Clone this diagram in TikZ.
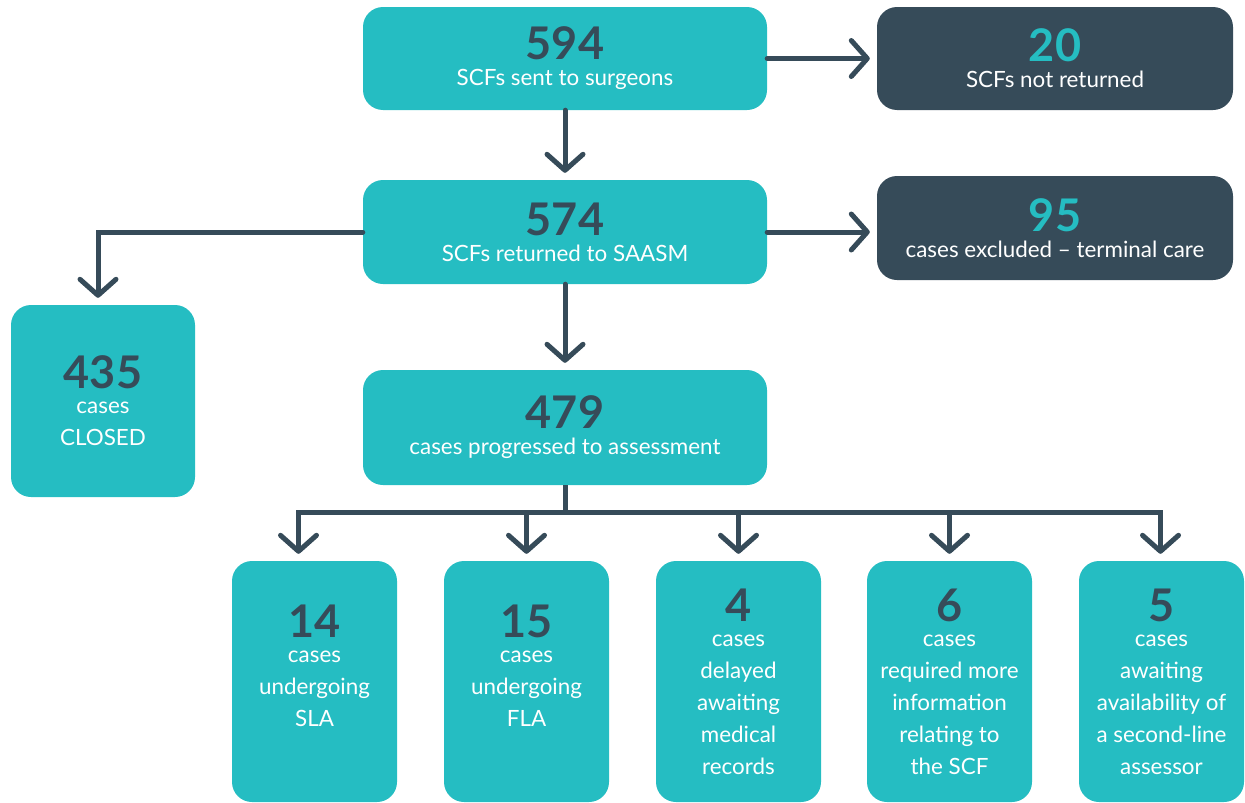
\documentclass[tikz,border=0pt]{standalone}
\usepackage{fontspec}
\setmainfont{Lato}
\usetikzlibrary{arrows.meta}
\definecolor{aqua}{HTML}{25BDC2}
\definecolor{slate}{HTML}{364B59}
\newcommand{\bignum}[2][slate]{\textcolor{#1}{\fontsize{45}{45}\selectfont\bfseries #2}}

\begin{document}
\begin{tikzpicture}[x=1pt,y=-1pt,
    every node/.style={font=\fontsize{22.4}{32}\selectfont,text=white,align=center},
    box/.style={fill=aqua,rounded corners=20pt,inner sep=0pt},
    darkbox/.style={box,fill=slate},
    link/.style={slate,line width=5pt,line cap=round,shorten >=7pt,
        -{Straight Barb[length=16pt,width=36pt,round]}}]
    \useasboundingbox (0,0) rectangle (1245,803);
    % top row
    \node[box,minimum width=404,minimum height=103] (sent) at (565,58.5)
        {\bignum{594}\\[-6pt]SCFs sent to surgeons};
    \node[darkbox,minimum width=356,minimum height=103] (notret) at (1055,58.5)
        {\bignum[aqua]{20}\\[-6pt]SCFs not returned};
    \node[box,minimum width=404,minimum height=104] (ret) at (565,232)
        {\bignum{574}\\[-6pt]SCFs returned to SAASM};
    \node[darkbox,minimum width=356,minimum height=104] (excl) at (1055,228)
        {\bignum[aqua]{95}\\[-6pt]cases excluded -- terminal care};
    \node[box,minimum width=184,minimum height=192] (closed) at (103,401)
        {\bignum{435}\\[-7pt]cases\\CLOSED};
    \node[box,minimum width=404,minimum height=115] (prog) at (565,427.5)
        {\bignum{479}\\[-6pt]cases progressed to assessment};
    % bottom row
    \node[box,minimum width=165,minimum height=241] (sla) at (314.5,681.5)
        {\bignum{14}\\[-7pt]cases\\undergoing\\SLA\\~};
    \node[box,minimum width=165,minimum height=241] (fla) at (526.5,681.5)
        {\bignum{15}\\[-7pt]cases\\undergoing\\FLA\\~};
    \node[box,minimum width=165,minimum height=241] (rec) at (738.5,681.5)
        {\bignum{4}\\[-7pt]cases\\delayed\\awaiting\\medical\\records};
    \node[box,minimum width=165,minimum height=241] (info) at (949.5,681.5)
        {\bignum{6}\\[-7pt]cases\\required more\\information\\relating to\\the SCF};
    \node[box,minimum width=165,minimum height=241] (avail) at (1161.5,681.5)
        {\bignum{5}\\[-7pt]cases\\awaiting\\availability of\\a second-line\\assessor};
    % connectors
    \draw[link] (sent.east) -- (notret.west);
    \draw[link] (sent.south) -- (ret.north);
    \draw[link] (ret.east) -- (ret.east -| excl.west);
    \draw[link] (ret.west) -| ([xshift=-5pt]closed.north);
    \draw[link] (ret.south) -- (prog.north);
    \draw[slate,line width=5pt] (prog.south) -- ++(0,27) coordinate (split);
    \foreach \b/\dx in {sla/-16,fla/0,rec/0,info/0,avail/-1}
        \draw[link,line cap=butt] (split) -| ([xshift=\dx pt]\b.north);
\end{tikzpicture}
\end{document}
